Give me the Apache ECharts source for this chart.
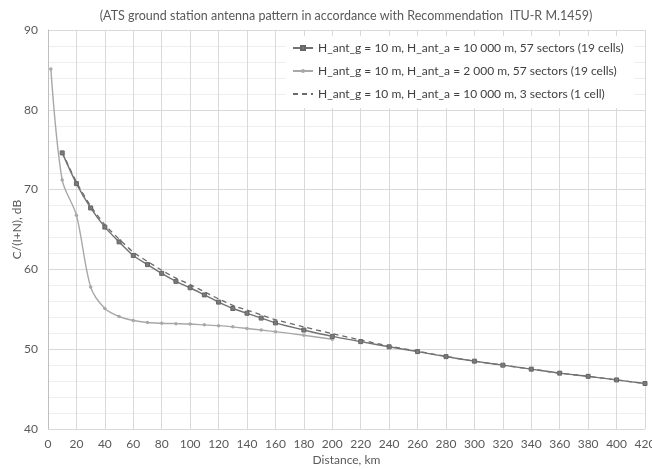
<!DOCTYPE html>
<html>
<head>
<meta charset="utf-8">
<script src="https://cdn.jsdelivr.net/npm/echarts@6/dist/echarts.min.js"></script>
<style>
  html, body { margin: 0; padding: 0; background: #fff; }
  #main { width: 652px; height: 469px; }
</style>
</head>
<body>
<div id="main"></div>
<script>
// distances (km) and C/(I+N) values (dB)
var distA = [10, 20, 30, 40, 50, 60, 70, 80, 90, 100, 110, 120, 130, 140, 150, 160,
  180, 200, 220, 240, 260, 280, 300, 320, 340, 360, 380, 400, 420];
var cinA = [74.6, 70.75, 67.7, 65.3, 63.45, 61.75, 60.6, 59.5, 58.5, 57.7, 56.8, 55.9, 55.1, 54.5, 53.9, 53.3,
  52.4, 51.6, 50.95, 50.3, 49.7, 49.07, 48.5, 48.0, 47.5, 47.0, 46.6, 46.15, 45.7];

var distB = [2, 10, 20, 30, 40, 50, 60, 70, 80, 90, 100, 110, 120, 130, 140, 150, 160, 180, 200];
var cinB = [85.1, 71.2, 66.8, 57.8, 55.1, 54.1, 53.6, 53.35, 53.25, 53.2, 53.15, 53.05, 52.95, 52.8, 52.6, 52.4, 52.2, 51.75, 51.25];

var distC = distA;
var cinC = [74.7, 70.95, 67.95, 65.6, 63.8, 62.15, 61.0, 59.9, 58.9, 58.1, 57.2, 56.3, 55.5, 54.9, 54.3, 53.7,
  52.8, 51.95, 51.15, 50.4, 49.75, 49.1, 48.5, 48.0, 47.5, 47.0, 46.6, 46.15, 45.7];

var names = [
  'H_ant_g = 10 m, H_ant_a = 10 000 m, 57 sectors (19 cells)',
  'H_ant_g = 10 m, H_ant_a = 2 000 m, 57 sectors (19 cells)',
  'H_ant_g = 10 m, H_ant_a = 10 000 m, 3 sectors (1 cell)'
];

function pairs(xs, ys) {
  var out = [];
  for (var i = 0; i < xs.length; i++) out.push([xs[i], ys[i]]);
  return out;
}

var font = 'Lato, "Open Sans", sans-serif';
var chart = echarts.init(document.getElementById('main'));

var option = {
  animation: false,
  textStyle: { fontFamily: font },
  title: {
    text: '(ATS ground station antenna pattern in accordance with Recommendation  ITU-R M.1459)',
    left: 341,
    textAlign: 'center',
    top: 4,
    textStyle: { fontSize: 12.5, fontWeight: 'normal', color: '#595959', fontFamily: font }
  },
  legend: {
    orient: 'vertical',
    left: 286,
    top: 36,
    itemWidth: 20,
    itemHeight: 5,
    itemGap: 11,
    backgroundColor: '#fff',
    padding: [6, 10, 8, 6],
    textStyle: { fontSize: 12, color: '#404040', fontFamily: font },
    data: [
      { name: names[0] },
      { name: names[1] },
      { name: names[2], itemStyle: { opacity: 0 } }
    ]
  },
  grid: { left: 48, right: 7, top: 30, bottom: 40, outerBoundsMode: 'none' },
  xAxis: {
    type: 'value',
    min: 0,
    max: 420,
    interval: 20,
    name: 'Distance, km',
    nameLocation: 'middle',
    nameGap: 25,
    nameMoveOverlap: false,
    nameTextStyle: { fontSize: 12, color: '#595959' },
    axisLine: { show: false },
    axisTick: { show: false },
    axisLabel: { fontSize: 12, color: '#595959', margin: 9 },
    splitLine: { lineStyle: { color: '#d9d9d9' } }
  },
  yAxis: {
    type: 'value',
    min: 40,
    max: 90,
    interval: 10,
    name: 'C/(I+N), dB',
    nameLocation: 'middle',
    nameGap: 25,
    nameMoveOverlap: false,
    nameTextStyle: { fontSize: 12, color: '#595959' },
    axisLine: { show: true, lineStyle: { color: '#bfbfbf' } },
    axisTick: { show: false },
    axisLabel: { fontSize: 12, color: '#595959', margin: 10 },
    splitLine: { lineStyle: { color: '#d9d9d9' } },
    minorTick: { show: false, splitNumber: 5 },
    minorSplitLine: { show: true, lineStyle: { color: '#eeeeee' } }
  },
  series: [
    {
      name: names[0],
      type: 'line',
      smooth: 0.25,
      data: pairs(distA, cinA),
      symbol: 'rect',
      symbolSize: 4,
      lineStyle: { color: '#727272', width: 1.4 },
      itemStyle: { color: '#7a7a7a', borderColor: '#666', borderWidth: 1 },
      z: 4
    },
    {
      name: names[1],
      type: 'line',
      smooth: 0.3,
      data: pairs(distB, cinB),
      symbol: 'circle',
      symbolSize: 3.5,
      lineStyle: { color: '#a8a8a8', width: 1.4 },
      itemStyle: { color: '#a8a8a8' },
      z: 3
    },
    {
      name: names[2],
      type: 'line',
      smooth: 0.25,
      data: pairs(distC, cinC),
      symbol: 'none',
      lineStyle: { color: '#6a6a6a', width: 1.3, type: [5, 4] },
      itemStyle: { color: '#6a6a6a' },
      z: 2
    }
  ]
};

chart.setOption(option);
</script>
</body>
</html>
